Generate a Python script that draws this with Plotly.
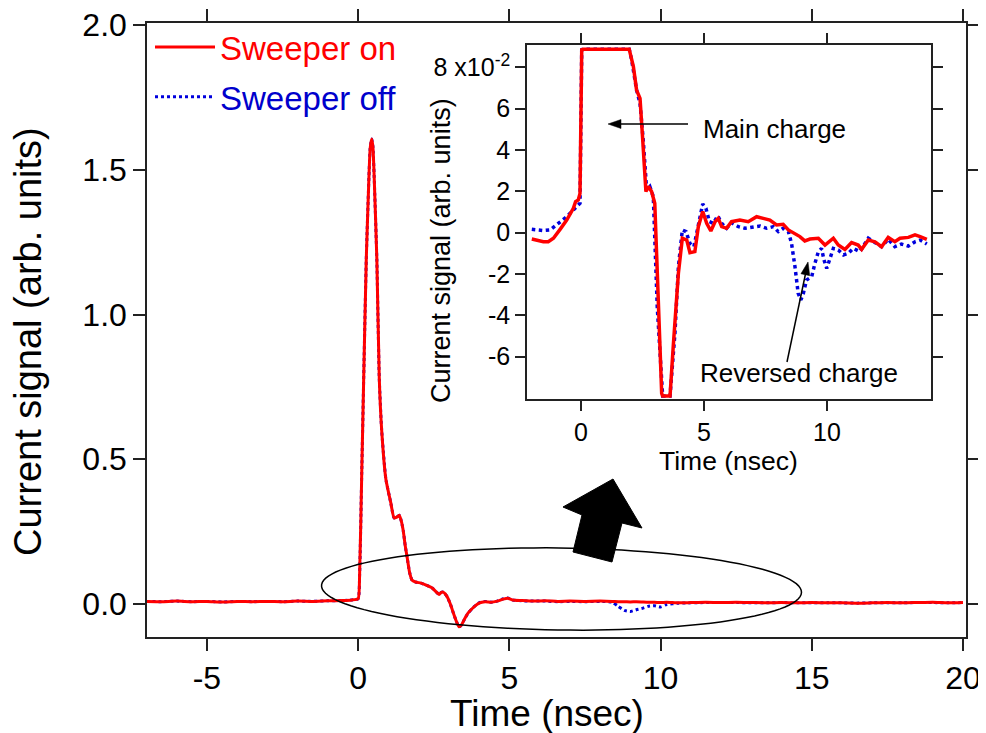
import numpy as np
import plotly.graph_objects as go

# page body has an 8px margin: the figure is sized to fill the rest of the window
OFF = 8
W, H = 986 - OFF, 733 - OFF
FONT = "Liberation Sans, Arial, Helvetica, sans-serif"

# ---------------- main panel data ----------------
t_main = [-7.0, -6.5, -6.0, -5.5, -5.0, -4.5, -4.0, -3.5, -3.0, -2.5, -2.0, -1.5, -1.0, -0.5, -0.2, 0.0,
          0.05, 0.12, 0.18, 0.27, 0.36, 0.40, 0.45, 0.49, 0.53, 0.62, 0.70, 0.78, 0.92, 1.08, 1.19, 1.28, 1.36, 1.42,
          1.49, 1.56, 1.62, 1.70, 1.78, 1.90,
          2.08, 2.25, 2.45, 2.60, 2.68, 2.75, 2.81, 2.88, 2.95, 3.05, 3.15, 3.25, 3.34, 3.42, 3.52, 3.64, 3.80, 4.0,
          4.2, 4.4, 4.6, 4.8, 4.95, 5.1, 5.4, 5.8, 6.2, 6.6, 7.0, 7.5, 8.0,
          8.4, 8.6, 8.8, 9.0, 9.2, 9.4, 9.6, 9.8, 10.0, 10.2, 10.6,
          11.0, 11.5, 12.0, 12.5, 13.0, 13.5, 14.0, 14.5, 15.0, 15.5, 16.0, 16.5, 17.0, 17.5, 18.0, 18.5, 19.0, 19.5, 20.0]

sweeper_on_main = [0.009, 0.008, 0.010, 0.008, 0.009, 0.007, 0.009, 0.008, 0.009, 0.008, 0.010, 0.009, 0.011, 0.012, 0.014, 0.018,
                   0.10, 0.45, 0.755, 1.19, 1.48, 1.575, 1.606, 1.58, 1.48, 1.19, 0.78, 0.60, 0.43, 0.35, 0.297, 0.30, 0.307, 0.29,
                   0.255, 0.20, 0.162, 0.11, 0.083, 0.076,
                   0.072, 0.065, 0.055, 0.040, 0.033, 0.040, 0.041, 0.035, 0.024, 0.0, -0.031, -0.060, -0.079, -0.072, -0.052, -0.031, -0.013, 0.003,
                   0.008, 0.006, 0.010, 0.017, 0.020, 0.014, 0.012, 0.010, 0.011, 0.009, 0.010, 0.009, 0.010,
                   0.009, 0.008, 0.008, 0.007, 0.008, 0.007, 0.006, 0.006, 0.005, 0.006, 0.004,
                   0.005, 0.006, 0.005, 0.006, 0.005, 0.004, 0.005, 0.004, 0.005, 0.004, 0.004, 0.003, 0.004, 0.005, 0.004, 0.005, 0.006, 0.004, 0.005]

sweeper_off_main = [0.009, 0.008, 0.010, 0.008, 0.009, 0.007, 0.009, 0.008, 0.009, 0.008, 0.010, 0.009, 0.011, 0.012, 0.014, 0.018,
                    0.10, 0.45, 0.755, 1.19, 1.48, 1.575, 1.606, 1.58, 1.48, 1.19, 0.78, 0.60, 0.43, 0.35, 0.297, 0.30, 0.307, 0.29,
                    0.255, 0.20, 0.162, 0.11, 0.083, 0.076,
                    0.072, 0.065, 0.055, 0.040, 0.033, 0.040, 0.041, 0.035, 0.024, 0.0, -0.031, -0.060, -0.079, -0.072, -0.052, -0.031, -0.013, 0.004,
                    0.009, 0.006, 0.010, 0.018, 0.021, 0.014, 0.011, 0.010, 0.010, 0.008, 0.009, 0.008, 0.009,
                    0.006, -0.008, -0.022, -0.026, -0.020, -0.015, -0.008, -0.006, -0.010, -0.002, 0.003,
                    0.004, 0.005, 0.005, 0.005, 0.004, 0.004, 0.005, 0.004, 0.004, 0.004, 0.004, 0.003, 0.004, 0.004, 0.004, 0.005, 0.005, 0.004, 0.005]

main_xticks = [-5, 0, 5, 10, 15, 20]
main_xticktext = ["-5", "0", "5", "10", "15", "20"]
main_yticks = [0.0, 0.5, 1.0, 1.5, 2.0]
main_yticktext = ["0.0", "0.5", "1.0", "1.5", "2.0"]

# ---------------- inset data (units of 1e-2) ----------------
t_in_on = [-2.0, -1.53, -1.33, -1.12, -0.85, -0.58, -0.31, -0.22, -0.11, -0.04, 0.03, 0.09, 1.96, 2.13, 2.26, 2.40,
           2.51, 2.64, 2.74, 2.87, 3.0, 3.14, 3.28, 3.32, 3.62, 3.75, 3.96, 4.12, 4.30, 4.43, 4.63, 4.77, 4.95,
           5.11, 5.28, 5.45, 5.58, 5.72, 5.92, 6.12, 6.46, 6.8, 7.14, 7.41, 7.68, 7.95, 8.22, 8.43, 8.7, 8.9,
           9.1, 9.31, 9.65, 9.92, 10.26, 10.46, 10.73, 11.0, 11.27, 11.41, 11.68, 11.95, 12.22, 12.49, 12.76,
           12.97, 13.31, 13.58, 13.79, 14.06]
v_in_on = [-0.31, -0.44, -0.44, -0.27, 0.16, 0.61, 1.18, 1.5, 1.58, 1.9, 8.85, 8.88, 8.88, 8.04, 6.9, 6.5,
           4.49, 1.99, 2.23, 1.99, 1.42, -3.58, -7.78, -7.9, -7.9, -5.52, -1.97, -0.27, -0.36, -0.97, -0.92, 0.29, 1.02,
           0.45, 0.08, 0.53, 0.69, 0.29, 0.21, 0.53, 0.61, 0.53, 0.77, 0.69, 0.61, 0.37, 0.4, 0.13, -0.03, -0.19,
           -0.4, -0.31, -0.27, -0.6, -0.27, -0.6, -0.81, -0.48, -0.6, -0.81, -0.36, -0.44, -0.68, -0.23, -0.44,
           -0.27, -0.23, -0.11, -0.19, -0.32]

t_in_off = [-2.0, -1.53, -1.26, -0.99, -0.58, -0.24, -0.04, 0.03, 0.09, 1.96, 2.06, 2.26, 2.40, 2.53, 2.67, 2.8,
            2.94, 3.1, 3.28, 3.32, 3.62, 3.82, 3.96, 4.12, 4.27, 4.43, 4.59, 4.77, 4.95, 5.08, 5.22, 5.38, 5.56,
            5.72, 5.92, 6.12, 6.40, 6.67, 6.94, 7.28, 7.55, 7.82, 8.02, 8.22, 8.43, 8.56, 8.7, 8.83, 8.94, 9.04,
            9.17, 9.38, 9.51, 9.65, 9.78, 9.88, 9.99, 10.12, 10.26, 10.46, 10.67, 10.87, 11.07, 11.34, 11.68,
            11.95, 12.22, 12.49, 12.76, 13.03, 13.31, 13.58, 13.79, 14.06]
v_in_off = [0.16, 0.1, 0.13, 0.37, 0.77, 1.18, 1.42, 8.85, 8.88, 8.88, 8.36, 6.9, 6.26, 4.49, 2.07, 2.23,
            1.74, -3.58, -7.78, -7.9, -7.9, -4.87, -1.65, 0.13, 0.05, -0.52, -0.68, 0.29, 1.39, 1.18, 0.53, 0.45, 0.82,
            0.45, 0.21, 0.48, 0.29, 0.21, 0.26, 0.32, 0.21, 0.29, 0.05, 0.21, 0.05, -0.52, -1.65, -2.94, -3.26, -2.94,
            -2.29, -2.13, -1.49, -0.92, -0.76, -1.32, -1.73, -1.24, -0.76, -0.84, -1.08, -1.0, -0.76, -0.92, -0.27,
            -0.48, -0.68, -0.32, -0.68, -0.55, -0.65, -0.44, -0.36, -0.55]

in_xticks = [0, 5, 10]
in_xticktext = ["0", "5", "10"]
in_yticks = [-6, -4, -2, 0, 2, 4, 6, 8]
in_yticktext = ["-6", "-4", "-2", "0", "2", "4", "6", "8 x10<sup>-2</sup>"]

RED = "#FF0000"
BLUE = "#0000DD"


def px(xp):
    """window pixel x -> paper fraction"""
    return (xp - OFF) / W


def py(yp):
    """window pixel y -> paper fraction"""
    return 1 - (yp - OFF) / H


fig = go.Figure()

# main panel
fig.add_trace(go.Scatter(x=t_main, y=sweeper_off_main, mode="lines", name="<span style='color:#0000CC'>Sweeper off</span>",
                         line=dict(color=BLUE, width=3, dash="dot", shape="spline", smoothing=0.5),
                         legendrank=2, legendgroup="b", xaxis="x", yaxis="y"))
fig.add_trace(go.Scatter(x=t_main, y=sweeper_on_main, mode="lines", name="<span style='color:#FF0000'>Sweeper on</span>",
                         line=dict(color=RED, width=3, shape="spline", smoothing=0.5),
                         legendrank=1, legendgroup="a", xaxis="x", yaxis="y"))
# inset
fig.add_trace(go.Scatter(x=t_in_off, y=v_in_off, mode="lines", showlegend=False,
                         line=dict(color=BLUE, width=3.5, dash="dot"), xaxis="x2", yaxis="y2"))
fig.add_trace(go.Scatter(x=t_in_on, y=v_in_on, mode="lines", showlegend=False,
                         line=dict(color=RED, width=3.5), xaxis="x2", yaxis="y2"))

axis_common = dict(showline=True, linecolor="#222", linewidth=1.5, mirror="ticks", ticks="outside",
                   tickcolor="#222", tickwidth=1.5, showgrid=False, zeroline=False, automargin=False,
                   ticklabeloverflow="allow")

fig.update_layout(
    width=W, height=H, autosize=False,
    margin=dict(l=0, r=0, t=0, b=0, autoexpand=False),
    paper_bgcolor="white", plot_bgcolor="white",
    font=dict(family=FONT, color="black"),
    xaxis=dict(domain=[px(147), px(966)], range=[-6.98, 20.1], tickvals=main_xticks, ticktext=main_xticktext,
               ticklen=12, tickfont=dict(size=32), anchor="y", **axis_common),
    yaxis=dict(domain=[py(637), py(23)], range=[-0.114, 2.007], tickvals=main_yticks, ticktext=main_yticktext,
               ticklen=12, tickfont=dict(size=32), anchor="x", **axis_common),
    xaxis2=dict(domain=[px(527), px(931)], range=[-2.195, 14.23], tickvals=in_xticks, ticktext=in_xticktext,
                ticklen=10, tickfont=dict(size=25), anchor="y2", **axis_common),
    yaxis2=dict(domain=[py(399), py(45)], range=[-8.05, 9.08], tickvals=in_yticks, ticktext=in_yticktext,
                ticklen=10, tickfont=dict(size=25), anchor="x2", **axis_common),
    legend=dict(x=px(150), y=py(19), xanchor="left", yanchor="top", bgcolor="rgba(0,0,0,0)",
                font=dict(size=33, family=FONT), itemwidth=60, tracegroupgap=4),
    showlegend=True,
)

# axis titles and inset labels as annotations
annots = [
    dict(text="Time (nsec)", x=px(547), y=py(713), xref="paper", yref="paper", showarrow=False,
         font=dict(size=37), xanchor="center", yanchor="middle"),
    dict(text="Current signal (arb. units)", x=px(28), y=py(342), xref="paper", yref="paper", showarrow=False,
         font=dict(size=38), textangle=-90, xanchor="center", yanchor="middle"),
    dict(text="Time (nsec)", x=px(728), y=py(461), xref="paper", yref="paper", showarrow=False,
         font=dict(size=26.5), xanchor="center", yanchor="middle"),
    dict(text="Current signal (arb. units)", x=px(441), y=py(251), xref="paper", yref="paper", showarrow=False,
         font=dict(size=27), textangle=-90, xanchor="center", yanchor="middle"),
    dict(text="Main charge", x=4.88, y=5.02, xref="x2", yref="y2", showarrow=False,
         font=dict(size=26), xanchor="left", yanchor="middle"),
    dict(text="Reversed charge", x=4.76, y=-6.79, xref="x2", yref="y2", showarrow=False,
         font=dict(size=26), xanchor="left", yanchor="middle"),
]
fig.update_layout(annotations=annots)


def to_path(pts, close=True):
    s = "M " + " L ".join(f"{px(a):.5f},{py(b):.5f}" for a, b in pts)
    return s + (" Z" if close else "")


def thin_arrow(tail, tip, L=13.0, w=4.5):
    tx, ty = tail
    hx, hy = tip
    d = np.array([hx - tx, hy - ty], dtype=float)
    d /= np.hypot(*d)
    n = np.array([-d[1], d[0]])
    base = np.array([hx, hy]) - d * L
    tri = [(hx, hy), tuple(base + n * w), tuple(base - n * w)]
    return [
        dict(type="path", path=to_path([tail, tuple(base + d * 2)], close=False), xref="paper", yref="paper",
             line=dict(color="black", width=1.5)),
        dict(type="path", path=to_path(tri), xref="paper", yref="paper", line=dict(color="black", width=0.5),
             fillcolor="black"),
    ]


# big block arrow (window-pixel outline)
arrow_pts = [(613, 479), (642, 528), (622, 523), (612, 562), (573, 552), (582, 515), (563, 507)]

# ellipse (slightly tilted) around the baseline region
cx, cy, ea, eb, ang = 561.5, 589.0, 240.0, 41.0, np.deg2rad(0.8)
th = np.linspace(0, 2 * np.pi, 120)
ex = cx + ea * np.cos(th) * np.cos(ang) - eb * np.sin(th) * np.sin(ang)
ey = cy + ea * np.cos(th) * np.sin(ang) + eb * np.sin(th) * np.cos(ang)

shapes = [
    dict(type="path", path=to_path(list(zip(ex, ey))), xref="paper", yref="paper",
         line=dict(color="black", width=1.5), fillcolor="rgba(0,0,0,0)"),
    dict(type="path", path=to_path(arrow_pts), xref="paper", yref="paper", line=dict(color="black", width=1),
         fillcolor="black"),
]
shapes += thin_arrow((688, 124), (608, 124))
shapes += thin_arrow((787, 362), (808, 262))
fig.update_layout(shapes=shapes)

fig.write_html("out.html")
